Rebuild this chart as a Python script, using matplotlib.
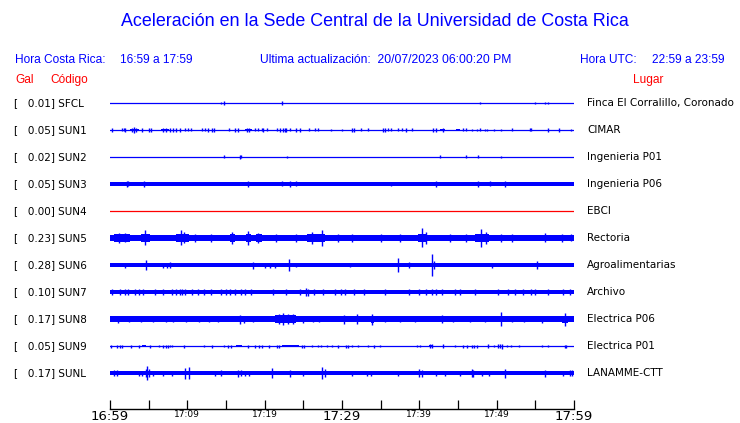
#!/usr/bin/env python3
"""Accelerograms for the UCR Sede Central stations, last hour."""
import matplotlib
matplotlib.use("Agg")
import matplotlib.pyplot as plt
import matplotlib.transforms as mtransforms

BLUE = "#0000ff"
RED = "#ff0000"
HEAD_FONT = ["Liberation Sans", "DejaVu Sans"]

# --- data (times in minutes after 16:59, amplitudes in trace pixels) -------
STATIONS = ["SFCL", "SUN1", "SUN2", "SUN3", "SUN4", "SUN5",
            "SUN6", "SUN7", "SUN8", "SUN9", "SUNL"]
PEAK_GAL = [0.01, 0.05, 0.02, 0.05, 0.00, 0.23, 0.28, 0.10, 0.17, 0.05, 0.17]
PLACES = ["Finca El Corralillo, Coronado", "CIMAR", "Ingenieria P01",
          "Ingenieria P06", "EBCI", "Rectoria", "Agroalimentarias",
          "Archivo", "Electrica P06", "Electrica P01", "LANAMME-CTT"]
TRACE_COLORS = [BLUE, BLUE, BLUE, BLUE, RED, BLUE, BLUE, BLUE, BLUE, BLUE, BLUE]

# half-width of the continuous noise band
BASE = [0.0, 0.0, 0.0, 2.0, 0.0, 3.2, 2.0, 2.0, 2.6, 0.0, 2.0]

# (start, end, half-width) of noisy stretches
BURSTS = {
    "SUN1": [(2.6, 3.7, 1.3), (6.6, 7.6, 1.1), (17.4, 18.3, 1.1),
             (42.7, 43.3, 1.1), (44.7, 45.3, 1.1)],
    "SUN5": [(0.5, 2.6, 3.7), (4.0, 5.2, 3.9), (8.5, 10.2, 3.9),
             (15.5, 16.2, 3.6), (17.6, 18.2, 4.2), (18.9, 19.6, 3.6),
             (25.5, 27.8, 3.9), (33.0, 35.0, 3.4), (39.8, 41.0, 3.9),
             (45.5, 47.0, 3.4), (47.2, 49.0, 3.9), (54.5, 56.5, 3.4)],
    "SUN6": [(6.7, 8.0, 2.3)],
    "SUN8": [(0.2, 1.7, 3.1), (8.0, 8.5, 3.0), (16.4, 17.9, 3.3),
             (21.3, 24.1, 3.7), (29.5, 30.8, 3.3), (33.7, 34.2, 3.5),
             (42.5, 43.5, 3.1), (58.5, 59.2, 3.5)],
    "SUN9": [(4.1, 4.7, 1.0), (16.3, 17.1, 1.1), (22.2, 24.4, 1.1),
             (41.3, 41.8, 1.1), (43.0, 43.2, 1.1)],
}

# (time, half-height) of individual spikes
SPIKES = {
    "SFCL": [(14.4, 1.0), (14.8, 1.7), (22.3, 2.0), (47.9, 1.2), (54.9, 1.0),
             (56.3, 1.3), (56.6, 1.3)],
    "SUN1": [(0.3, 1.7), (1.5, 1.5), (1.8, 1.5), (2.0, 1.7), (2.9, 2.3),
             (3.1, 2.8), (3.4, 2.3), (4.1, 1.7), (5.0, 1.7), (5.3, 1.7),
             (6.9, 1.7), (7.2, 1.7), (7.8, 1.7), (8.2, 1.7), (8.5, 1.7),
             (9.1, 1.7), (9.7, 1.5), (10.1, 1.5), (10.5, 1.5), (11.9, 1.5),
             (12.3, 1.5), (12.7, 1.7), (13.2, 1.7), (13.5, 1.7), (15.4, 1.5),
             (16.2, 1.7), (16.5, 1.7), (17.7, 1.7), (18.0, 1.7), (18.8, 1.5),
             (19.2, 1.5), (19.6, 1.5), (19.8, 1.7), (20.3, 1.5), (21.6, 1.5),
             (22.0, 1.7), (22.4, 1.7), (22.6, 1.7), (22.8, 1.7), (23.3, 1.5),
             (24.1, 1.7), (24.6, 1.7), (25.7, 1.5), (26.5, 1.5), (26.9, 1.5),
             (28.6, 1.3), (30.0, 1.3), (31.3, 1.7), (31.5, 1.7), (32.5, 1.5),
             (33.3, 1.5), (35.3, 1.7), (35.5, 1.7), (36.0, 1.5), (36.4, 1.5),
             (37.3, 1.5), (37.7, 1.5), (38.3, 1.7), (39.0, 1.5), (41.8, 1.7),
             (42.1, 1.7), (43.0, 1.7), (45.7, 1.5), (46.0, 1.5), (46.8, 1.3),
             (47.4, 1.3), (47.8, 1.5), (48.5, 1.3), (48.8, 1.3), (49.6, 1.3),
             (50.6, 1.3), (52.0, 1.5), (54.3, 1.5), (54.5, 1.5), (56.6, 1.7),
             (58.0, 2.3), (59.6, 1.3)],
    "SUN2": [(14.8, 1.5), (16.8, 2.0), (16.9, 1.5), (22.9, 1.2), (42.7, 1.5),
             (46.0, 1.5), (47.6, 1.5), (50.6, 1.2)],
    "SUN3": [(2.2, 3.0), (2.3, 2.5), (4.4, 3.0), (17.8, 3.0), (22.3, 2.5),
             (23.3, 3.0), (24.1, 2.5), (36.3, 2.0), (42.1, 3.0), (47.6, 3.0),
             (49.1, 2.5), (51.1, 3.0)],
    "SUN4": [],
    "SUN5": [(1.2, 5.0), (2.0, 4.5), (4.5, 7.5), (9.2, 7.5), (9.6, 5.5),
             (11.0, 4.0), (13.0, 4.0), (15.8, 6.0), (17.9, 6.7), (19.2, 5.0),
             (21.5, 3.8), (24.0, 4.0), (26.1, 6.0), (27.4, 8.0), (29.5, 4.0),
             (31.3, 4.0), (35.0, 4.0), (37.5, 4.0), (40.3, 9.5), (40.8, 6.0),
             (44.0, 4.0), (46.0, 4.0), (48.0, 9.0), (48.6, 6.0), (50.5, 4.0),
             (52.0, 4.0), (56.2, 4.5), (58.5, 4.0), (59.6, 3.5)],
    "SUN6": [(1.9, 2.5), (4.7, 5.0), (6.9, 2.5), (7.4, 2.5), (7.8, 3.0),
             (18.5, 3.5), (20.1, 2.5), (20.7, 2.5), (21.4, 2.5), (23.1, 5.7),
             (24.0, 2.0), (31.0, 2.0), (37.2, 7.0), (38.7, 3.0), (41.6, 11.0),
             (41.9, 4.0), (49.4, 2.5), (55.2, 4.0)],
    "SUN7": [(0.2, 2.6), (1.3, 2.6), (1.9, 2.6), (2.3, 2.6), (3.2, 2.6),
             (3.7, 2.6), (4.3, 2.6), (5.8, 2.6), (6.9, 2.6), (8.0, 3.0),
             (8.5, 2.6), (9.1, 2.6), (9.3, 3.0), (9.7, 2.6), (10.6, 2.6),
             (11.4, 2.6), (12.1, 2.6), (13.1, 2.6), (14.4, 2.6), (15.0, 2.6),
             (15.5, 2.6), (16.2, 2.6), (17.0, 3.0), (17.4, 2.6), (18.2, 2.6),
             (21.1, 2.6), (22.8, 2.6), (24.6, 2.6), (25.4, 4.3), (25.6, 3.5),
             (26.4, 3.2), (27.6, 2.6), (29.1, 2.6), (29.9, 2.6), (30.4, 2.6),
             (31.5, 2.6), (32.9, 2.6), (35.6, 2.6), (38.6, 2.6), (39.9, 3.0),
             (40.9, 2.6), (41.6, 3.0), (42.2, 2.6), (42.9, 2.6), (44.6, 2.6),
             (45.3, 2.6), (47.2, 2.6), (50.2, 2.6), (51.5, 3.3), (52.4, 2.6),
             (53.4, 2.6), (54.5, 2.6), (55.0, 2.6), (56.7, 2.6), (58.6, 2.6),
             (59.5, 2.6)],
    "SUN8": [(1.0, 3.5), (2.5, 3.0), (4.0, 3.0), (5.5, 3.0), (7.3, 3.0),
             (8.2, 3.3), (9.8, 3.3), (11.5, 3.0), (12.8, 3.0), (14.0, 3.0),
             (16.8, 4.5), (17.3, 3.5), (18.5, 3.0), (21.8, 5.3), (22.4, 6.0),
             (23.0, 5.0), (23.6, 5.0), (25.0, 3.5), (26.2, 3.0), (27.0, 3.0),
             (30.2, 4.5), (31.9, 4.8), (33.9, 5.5), (35.5, 3.0), (37.5, 3.0),
             (39.5, 3.0), (42.9, 4.0), (44.4, 3.0), (46.5, 3.0), (48.5, 3.0),
             (50.6, 7.0), (52.0, 3.0), (53.5, 3.0), (55.8, 3.5), (58.9, 6.5)],
    "SUN9": [(0.1, 1.5), (0.9, 1.5), (1.3, 1.5), (1.5, 1.5), (2.7, 1.5),
             (3.7, 1.5), (5.2, 1.5), (6.4, 1.3), (6.9, 1.5), (7.2, 1.5),
             (7.5, 1.5), (7.8, 1.3), (8.0, 1.3), (9.6, 1.5), (12.1, 1.3),
             (13.2, 1.5), (14.7, 1.3), (15.2, 1.5), (15.7, 1.5), (17.9, 1.5),
             (18.8, 1.5), (19.3, 1.5), (19.6, 1.5), (20.6, 1.5), (21.6, 1.5),
             (21.9, 1.5), (24.8, 1.5), (25.1, 1.5), (26.1, 1.3), (26.9, 1.3),
             (27.3, 1.3), (28.1, 1.3), (28.7, 1.3), (29.5, 1.5), (30.5, 1.5),
             (30.8, 1.5), (31.3, 1.3), (32.1, 1.3), (33.4, 1.3), (34.1, 1.5),
             (34.9, 1.3), (39.7, 1.3), (40.1, 1.3), (41.4, 1.7), (41.7, 1.7),
             (43.1, 1.7), (44.6, 1.3), (45.6, 1.5), (46.2, 1.5), (46.8, 1.5),
             (47.1, 1.5), (47.5, 1.5), (48.9, 1.7), (49.6, 1.3), (50.2, 1.7),
             (50.4, 1.7), (50.7, 2.5), (51.4, 1.3), (51.9, 1.3), (52.9, 1.3),
             (55.9, 1.3), (56.7, 1.3), (58.8, 1.5), (59.0, 1.5)],
    "SUNL": [(0.5, 3.0), (0.9, 3.0), (3.7, 2.5), (4.1, 2.5), (4.6, 4.0),
             (4.8, 7.0), (5.1, 4.0), (5.6, 2.5), (6.9, 2.5), (8.0, 2.5),
             (9.7, 5.5), (10.2, 6.0), (13.6, 2.5), (14.3, 3.0), (16.6, 3.5),
             (17.0, 3.0), (17.5, 2.5), (18.0, 2.5), (20.9, 5.0), (23.3, 3.5),
             (25.0, 2.5), (27.4, 6.0), (27.8, 4.0), (31.3, 2.5), (33.2, 2.5),
             (33.8, 2.5), (37.3, 2.5), (40.0, 4.0), (40.3, 3.5), (42.2, 2.5),
             (43.3, 2.5), (45.2, 2.5), (46.8, 4.0), (47.0, 3.5), (48.1, 2.5),
             (49.0, 2.5), (51.1, 4.5), (56.3, 3.5), (58.6, 2.5), (59.5, 3.0),
             (59.8, 3.0)],
}

MAJOR_TICKS = [0, 30, 60]
MAJOR_LABELS = ["16:59", "17:29", "17:59"]
MINOR_TICKS = [5, 10, 15, 20, 25, 35, 40, 45, 50, 55]
MINOR_LABELS = ["", "17:09", "", "17:19", "", "", "17:39", "", "17:49", ""]

ROW = 27.0  # pixels between traces


def main():
    fig = plt.figure(figsize=(7.4, 4.23), dpi=100)
    # axes spans x 110..574 px, y 90..409 px (from top)
    ax = fig.add_axes([110 / 740, 1 - 409 / 423, 464 / 740, 319 / 423])
    ax.set_xlim(0, 60)
    ax.set_ylim(-(409 - 103), 103 - 90)

    for i, name in enumerate(STATIONS):
        y0 = -i * ROW
        col = TRACE_COLORS[i]
        if BASE[i] > 0:
            ax.fill_between([0, 60], y0 - BASE[i], y0 + BASE[i],
                            color=col, lw=0)
        else:
            ax.plot([0, 60], [y0, y0], color=col, lw=0.9)
        for t0, t1, a in BURSTS.get(name, []):
            ax.fill_between([t0, t1], y0 - a, y0 + a, color=col, lw=0)
        sp = SPIKES.get(name, [])
        if sp:
            ax.vlines([s[0] for s in sp], [y0 - s[1] for s in sp],
                      [y0 + s[1] for s in sp], color=col, lw=1.0)

    for side in ("top", "left", "right"):
        ax.spines[side].set_visible(False)
    ax.spines["bottom"].set_linewidth(1.0)
    ax.set_yticks([])
    ax.set_xticks(MAJOR_TICKS)
    ax.set_xticklabels(MAJOR_LABELS, fontsize=9.5)
    ax.set_xticks(MINOR_TICKS, minor=True)
    ax.set_xticklabels(MINOR_LABELS, minor=True, fontsize=6.5)
    ax.tick_params(axis="x", which="both", direction="in", length=6.5,
                   width=0.9, pad=1)

    # station labels, figure-x / data-y
    trans = mtransforms.blended_transform_factory(fig.transFigure, ax.transData)
    for i, name in enumerate(STATIONS):
        y0 = -i * ROW
        ax.text(14 / 740, y0, f"[   {PEAK_GAL[i]:.2f}] {name}",
                transform=trans, fontsize=7.5, va="center", ha="left",
                clip_on=False)
        ax.text(587 / 740, y0, PLACES[i], transform=trans, fontsize=7.5,
                va="center", ha="left", clip_on=False)

    # header
    fig.text(375 / 740, 1 - 22 / 423,
             "Aceleración en la Sede Central de la Universidad de Costa Rica",
             ha="center", va="center", fontsize=12.9, color=BLUE,
             family=HEAD_FONT)
    hy = 1 - 60 / 423
    fig.text(15 / 740, hy, "Hora Costa Rica:", ha="left", va="center",
             fontsize=8.6, color=BLUE, family=HEAD_FONT)
    fig.text(120 / 740, hy, "16:59 a 17:59", ha="left", va="center",
             fontsize=8.6, color=BLUE, family=HEAD_FONT)
    fig.text(260 / 740, hy, "Ultima actualización:  20/07/2023 06:00:20 PM",
             ha="left", va="center", fontsize=8.7, color=BLUE, family=HEAD_FONT)
    fig.text(580 / 740, hy, "Hora UTC:", ha="left", va="center",
             fontsize=8.6, color=BLUE, family=HEAD_FONT)
    fig.text(725 / 740, hy, "22:59 a 23:59", ha="right", va="center",
             fontsize=8.6, color=BLUE, family=HEAD_FONT)
    ry = 1 - 80 / 423
    fig.text(15 / 740, ry, "Gal", ha="left", va="center", fontsize=8.6,
             color=RED, family=HEAD_FONT)
    fig.text(50 / 740, ry, "Código", ha="left", va="center", fontsize=8.6,
             color=RED, family=HEAD_FONT)
    fig.text(663 / 740, ry, "Lugar", ha="right", va="center", fontsize=8.6,
             color=RED, family=HEAD_FONT)

    fig.savefig("out.png", dpi=100)
    plt.close(fig)


if __name__ == "__main__":
    main()
